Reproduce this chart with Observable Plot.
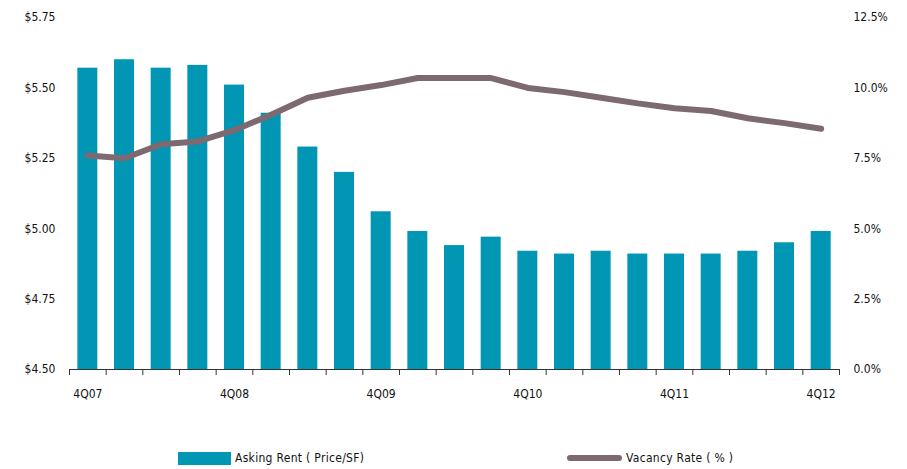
<!DOCTYPE html>
<html>
<head>
<meta charset="utf-8">
<script src="https://cdn.jsdelivr.net/npm/d3@7"></script>
<script src="https://cdn.jsdelivr.net/npm/@observablehq/plot@0.6"></script>
<style>
  html, body { margin: 0; padding: 0; background: #fff; }
  #wrap { position: relative; width: 907px; height: 469px; font-family: "DejaVu Sans Condensed", "DejaVu Sans", sans-serif; }
  #legend { position: absolute; left: 0; top: 410px; width: 907px; height: 59px; font-size: 12px; color: #111; }
  .sw-bar { position: absolute; left: 178px; top: 42px; width: 53px; height: 13px; background: #0096B4; }
  .sw-line { position: absolute; left: 567px; top: 45px; width: 55px; height: 6px; border-radius: 3px; background: #7D6970; }
  .lab { position: absolute; top: 40px; line-height: 16px; letter-spacing: 0.3px; }
</style>
</head>
<body>
<div id="wrap">
  <div id="chart"></div>
  <div id="legend">
    <div class="sw-bar"></div><div class="lab" style="left:235px">Asking Rent ( Price/SF)</div>
    <div class="sw-line"></div><div class="lab" style="left:626px">Vacancy Rate ( % )</div>
  </div>
</div>
<script>
// Quarterly asking rent ($/SF) and vacancy rate (%)
const quarters = ["4Q07","1Q08","2Q08","3Q08","4Q08","1Q09","2Q09","3Q09","4Q09","1Q10","2Q10","3Q10","4Q10","1Q11","2Q11","3Q11","4Q11","1Q12","2Q12","3Q12","4Q12"];
const askingRent = [5.57,5.60,5.57,5.58,5.51,5.41,5.29,5.20,5.06,4.99,4.94,4.97,4.92,4.91,4.92,4.91,4.91,4.91,4.92,4.95,4.99];
const vacancyRate = [7.6,7.5,8.0,8.1,8.5,9.05,9.65,9.9,10.1,10.35,10.35,10.35,10.0,9.85,9.65,9.45,9.28,9.18,8.92,8.75,8.55];
const xLabels = ["4Q07","4Q08","4Q09","4Q10","4Q11","4Q12"];
const rentTicks = [4.50,4.75,5.00,5.25,5.50,5.75];
const vacancyTicks = [0,2.5,5,7.5,10,12.5];

// vacancy (0–12.5%) shares the rent axis (4.50–5.75)
const rentMin = 4.5, rentMax = 5.75, vacMax = 12.5;
const vacToRent = v => rentMin + v / vacMax * (rentMax - rentMin);

const rows = quarters.map((q, i) => ({q, rent: askingRent[i], vac: vacancyRate[i]}));

const width = 907, height = 410;
const marginLeft = 69, marginRight = 68, marginTop = 17, marginBottom = 41;
const step = (width - marginLeft - marginRight) / quarters.length;
const font = "DejaVu Sans Condensed, DejaVu Sans, sans-serif";

const chart = Plot.plot({
  width, height, marginLeft, marginRight, marginTop, marginBottom,
  style: {fontFamily: font, fontSize: "12px", color: "#111", background: "#fff"},
  x: {domain: quarters, paddingInner: 0.455, paddingOuter: 0.2275, round: false, axis: null},
  y: {domain: [rentMin, rentMax], axis: null},
  marks: [
    Plot.barY(rows, {x: "q", y1: rentMin, y2: "rent", fill: "#0096B4"}),
    Plot.line(rows, {x: "q", y: d => vacToRent(d.vac), stroke: "#7D6970", strokeWidth: 6, strokeLinejoin: "round", strokeLinecap: "round"}),
    Plot.ruleY([rentMin], {stroke: "#333", strokeWidth: 1}),
    Plot.ruleX(quarters, {x: d => d, y1: rentMin, y2: rentMin, insetBottom: -6, dx: -step / 2, stroke: "#333"}),
    Plot.ruleX([quarters[quarters.length - 1]], {x: d => d, y1: rentMin, y2: rentMin, insetBottom: -6, dx: step / 2, stroke: "#333"}),
    Plot.axisX({ticks: xLabels, tickSize: 0, tickPadding: 20, label: null}),
    Plot.axisY({anchor: "left", ticks: rentTicks, tickSize: 0, tickPadding: 14, tickFormat: d => "$" + d.toFixed(2), label: null}),
    Plot.axisY({anchor: "right", ticks: vacancyTicks.map(vacToRent), tickSize: 0, tickPadding: 14,
      tickFormat: d => ((d - rentMin) / (rentMax - rentMin) * vacMax).toFixed(1) + "%", label: null})
  ]
});
document.getElementById("chart").appendChild(chart);
</script>
</body>
</html>
